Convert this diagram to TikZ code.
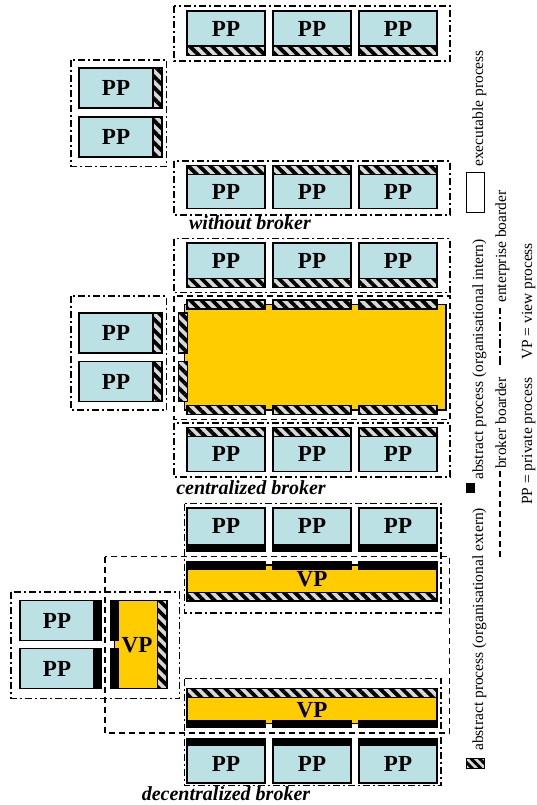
\documentclass[tikz,border=0pt]{standalone}
\usepackage{fontspec}
\setmainfont{Liberation Serif}
\usetikzlibrary{patterns.meta}

\definecolor{ppblue}{HTML}{BCE1E4}
\definecolor{vpyellow}{HTML}{FFCC00}
\definecolor{hatchgray}{HTML}{D8D8D8}

\tikzset{
  pp/.style={draw, fill=ppblue, line width=1.3pt},
  vp/.style={draw, fill=vpyellow, line width=1.3pt},
  ext/.style={draw, line width=1.3pt, preaction={fill=hatchgray},
    pattern={Lines[angle=-45, distance=7.8pt, line width=3.8pt]}},
  int/.style={draw, fill=black, line width=1.3pt},
  ent/.style={line width=1.4pt, dash pattern=on 7pt off 3pt on 2pt off 3pt},
  broker/.style={line width=1.4pt, dash pattern=on 6pt off 4pt},
  lbl/.style={font=\fontsize{23}{23}\selectfont\bfseries, inner sep=0pt},
  caption/.style={font=\fontsize{20}{20}\selectfont\bfseries\itshape, inner sep=0pt},
  legend/.style={font=\fontsize{15.5}{15.5}\selectfont, rotate=90, anchor=base west, inner sep=0pt}
}

\begin{document}
\begin{tikzpicture}[x=1pt, y=-1pt]
  \useasboundingbox (0,0) rectangle (536,805);

  % without broker
  \draw[ent] (174,6) rectangle (450,61);
  \draw[ent] (71,60) rectangle (166.5,166.5);
  \draw[ent] (174,161) rectangle (450,215);
  \foreach \x/\i in {187/1,273/2,359/3} {
    \draw[pp] (\x,11) rectangle ++(78,35) node[midway, lbl] (wt\i) {PP};
    \draw[ext] (\x,46) rectangle ++(78,9.5);
    \draw[ext] (\x,165.5) rectangle ++(78,9);
    \draw[pp] (\x,174.5) rectangle ++(78,34) node[midway, lbl] (wb\i) {PP};
  }
  \foreach \y/\i in {68/1,117/2} {
    \draw[pp] (79,\y) rectangle ++(74,40) node[midway, lbl] (wl\i) {PP};
    \draw[ext] (153,\y) rectangle ++(9,40);
  }
  \node[caption] (wcap) at (250,223) {without broker};

  % centralized broker
  \draw[ent] (174,238.5) rectangle (450,292.5);
  \draw[broker] (174,296) rectangle (450,419.5);
  \draw[ent] (71,296) rectangle (166.5,410);
  \draw[ent] (174,423) rectangle (450,477);
  \draw[vp] (184.5,304.5) rectangle (446,410);
  \draw[ext] (178.5,313) rectangle ++(9,40);
  \draw[ext] (178.5,361.5) rectangle ++(9,40);
  \foreach \x/\i in {187/1,273/2,359/3} {
    \draw[pp] (\x,243) rectangle ++(78,35.5) node[midway, lbl] (ct\i) {PP};
    \draw[ext] (\x,278.5) rectangle ++(78,9);
    \draw[ext] (\x,300) rectangle ++(78,9);
    \draw[ext] (\x,405.5) rectangle ++(78,9);
    \draw[ext] (\x,427.5) rectangle ++(78,9);
    \draw[pp] (\x,436.5) rectangle ++(78,35) node[midway, lbl] (cb\i) {PP};
  }
  \foreach \y/\i in {313/1,361.5/2} {
    \draw[pp] (79,\y) rectangle ++(74,40) node[midway, lbl] (cl\i) {PP};
    \draw[ext] (153,\y) rectangle ++(9,40);
  }
  \node[caption] (ccap) at (251,488) {centralized broker};

  % decentralized broker
  \draw[ent] (184.5,503.5) rectangle (441,613);
  \draw[broker] (105,556.5) rectangle (449.5,733);
  \draw[ent] (11,592) rectangle (179.5,698.5);
  \draw[ent] (184.5,678.5) rectangle (441,785.5);
  \draw[vp] (187,565) rectangle (437,592.5) node[midway, lbl] (dvt) {VP};
  \draw[ext] (187,592.5) rectangle (437,601);
  \draw[ext] (187,688.5) rectangle (437,697.5);
  \draw[vp] (187,697.5) rectangle (437,723.5) node[midway, lbl] (dvb) {VP};
  \foreach \x/\i in {187/1,273/2,359/3} {
    \draw[pp] (\x,508) rectangle ++(78,36.5) node[midway, lbl] (dt\i) {PP};
    \draw[int] (\x,544.5) rectangle ++(78,7);
    \draw[int] (\x,561.5) rectangle ++(78,7.5);
    \draw[int] (\x,720.5) rectangle ++(78,7);
    \draw[int] (\x,738.5) rectangle ++(78,6.5);
    \draw[pp] (\x,745) rectangle ++(78,38) node[midway, lbl] (db\i) {PP};
  }
  \draw[vp] (114.5,600.5) rectangle (157.5,688.5);
  \draw[ext] (157.5,600.5) rectangle (167,688.5);
  \node[lbl] (dvl) at (137,645) {VP};
  \foreach \y/\i in {600.5/1,648.5/2} {
    \draw[pp] (20,\y) rectangle ++(74,40) node[midway, lbl] (dl\i) {PP};
    \draw[int] (94,\y) rectangle ++(7,40);
    \draw[int] (111,\y) rectangle ++(7,40);
  }
  \node[caption] (dcap) at (226,794) {decentralized broker};

  % legend
  \draw[line width=1pt] (466,173) rectangle (484,212);
  \node[legend] (lexe) at (483,167) {executable process};
  \fill (466,483) rectangle (475,493);
  \node[legend] (lint) at (483,480) {abstract process (organisational intern)};
  \draw[ext, line width=1pt, pattern={Lines[angle=-45, distance=6pt, line width=3pt]}] (466,758) rectangle (484,768);
  \node[legend] (lext) at (483,751) {abstract process (organisational extern)};
  \draw[ent, dash pattern=on 9pt off 3pt on 2pt off 3pt] (500,365) -- (500,308);
  \node[legend] (lent) at (506,303) {enterprise boarder};
  \draw[broker] (500,557) -- (500,470);
  \node[legend] (lbro) at (506,469) {broker boarder};
  \node[legend] (lpp) at (532,505) {PP = private process};
  \node[legend] (lvp) at (532,360) {VP = view process};
\end{tikzpicture}
\end{document}
